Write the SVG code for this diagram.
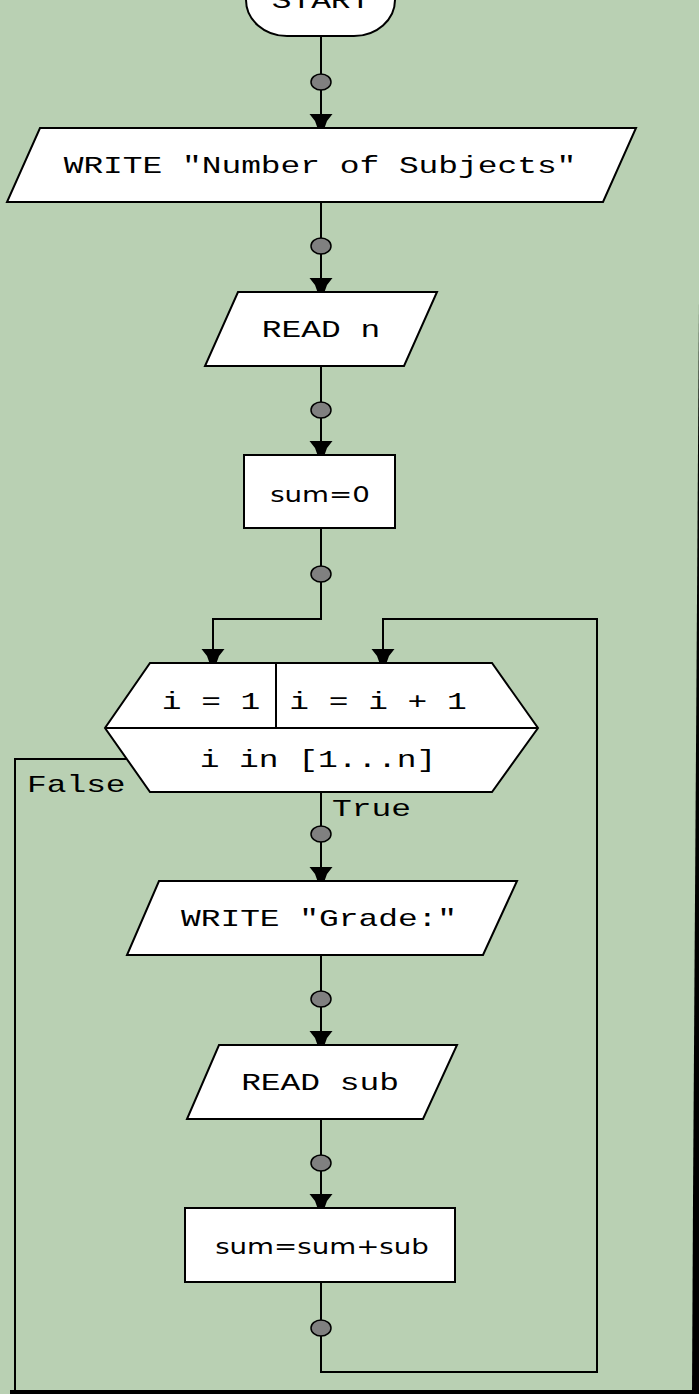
<svg xmlns="http://www.w3.org/2000/svg" width="699" height="1394" viewBox="0 0 699 1394">
<style>
.shape{fill:#ffffff;stroke:#000000;stroke-width:2}
.conn{fill:none;stroke:#000000;stroke-width:2}
.mono{font-family:"Liberation Mono","DejaVu Sans Mono",monospace;font-size:24px;fill:#000000}
.sans{font-family:"DejaVu Sans","Liberation Sans",sans-serif;font-size:20.5px;fill:#000000}
</style>
<defs>
<polygon id="arrow" points="-11.5,-14 11.5,-14 6,-7 3.5,0 -3.5,0 -6,-7" fill="#000000"/>
<ellipse id="dot" rx="10" ry="8" fill="#808080" stroke="#000000" stroke-width="1.5"/>
</defs>
<rect x="0" y="0" width="699" height="1394" fill="#b9d0b3"/>
<polygon points="699,300 699,1394 692,1394 693,1200" fill="#000000"/>
<rect x="10" y="1390" width="689" height="4" fill="#000000"/>
<g id="connectors">
<path class="conn" d="M321,36 V128"/>
<path class="conn" d="M321,203 V292"/>
<path class="conn" d="M321,366 V455"/>
<path class="conn" d="M321,528 V619 H213 V663"/>
<path class="conn" d="M321,1282 V1372 H597 V619 H383 V663"/>
<path class="conn" d="M321,792 V881"/>
<path class="conn" d="M321,955 V1045"/>
<path class="conn" d="M321,1119 V1208"/>
<path class="conn" d="M127,759 H15 V1394"/>
<use href="#dot" x="321" y="82"/>
<use href="#dot" x="321" y="246"/>
<use href="#dot" x="321" y="410"/>
<use href="#dot" x="321" y="574"/>
<use href="#dot" x="321" y="1328"/>
<use href="#dot" x="321" y="834"/>
<use href="#dot" x="321" y="999"/>
<use href="#dot" x="321" y="1163"/>
<use href="#arrow" x="321" y="128"/>
<use href="#arrow" x="321" y="292"/>
<use href="#arrow" x="321" y="455"/>
<use href="#arrow" x="213" y="663"/>
<use href="#arrow" x="383" y="663"/>
<use href="#arrow" x="321" y="881"/>
<use href="#arrow" x="321" y="1045"/>
<use href="#arrow" x="321" y="1208"/>
<text class="mono" transform="translate(27,792) scale(1.37,1)">False</text>
<text class="mono" transform="translate(332,816) scale(1.37,1)">True</text>
</g>
<g id="start">
<rect class="shape" x="246" y="-36" width="149" height="72" rx="41" ry="36"/>
<text class="mono" text-anchor="middle" transform="translate(321,8) scale(1.37,1)">START</text>
</g>
<g id="write-subjects">
<polygon class="shape" points="40,128 636,128 603,202 7,202"/>
<text class="mono" text-anchor="middle" transform="translate(320,173) scale(1.37,1)">WRITE "Number of Subjects"</text>
</g>
<g id="read-n">
<polygon class="shape" points="238,292 437,292 404,366 205,366"/>
<text class="mono" text-anchor="middle" transform="translate(321,337) scale(1.37,1)">READ n</text>
</g>
<g id="sum-init">
<rect class="shape" x="244" y="455" width="151" height="73"/>
<text class="sans" text-anchor="middle" transform="translate(320,502) scale(1.35,1)">sum=0</text>
</g>
<g id="for-loop">
<polygon class="shape" points="150,663 492,663 538,728 492,792 150,792 105,728"/>
<path class="conn" d="M105,728 H538 M276,663 V728"/>
<text class="mono" text-anchor="middle" transform="translate(211,709) scale(1.37,1)">i = 1</text>
<text class="mono" text-anchor="middle" transform="translate(378,709) scale(1.37,1)">i = i + 1</text>
<text class="mono" text-anchor="middle" transform="translate(318,767) scale(1.37,1)">i in [1...n]</text>
</g>
<g id="write-grade">
<polygon class="shape" points="159,881 517,881 483,955 127,955"/>
<text class="mono" text-anchor="middle" transform="translate(319,926) scale(1.37,1)">WRITE "Grade:"</text>
</g>
<g id="read-sub">
<polygon class="shape" points="219,1045 457,1045 423,1119 187,1119"/>
<text class="mono" text-anchor="middle" transform="translate(320,1090) scale(1.37,1)">READ sub</text>
</g>
<g id="sum-add">
<rect class="shape" x="185" y="1208" width="270" height="74"/>
<text class="sans" text-anchor="middle" transform="translate(322,1254) scale(1.35,1)">sum=sum+sub</text>
</g>
</svg>
